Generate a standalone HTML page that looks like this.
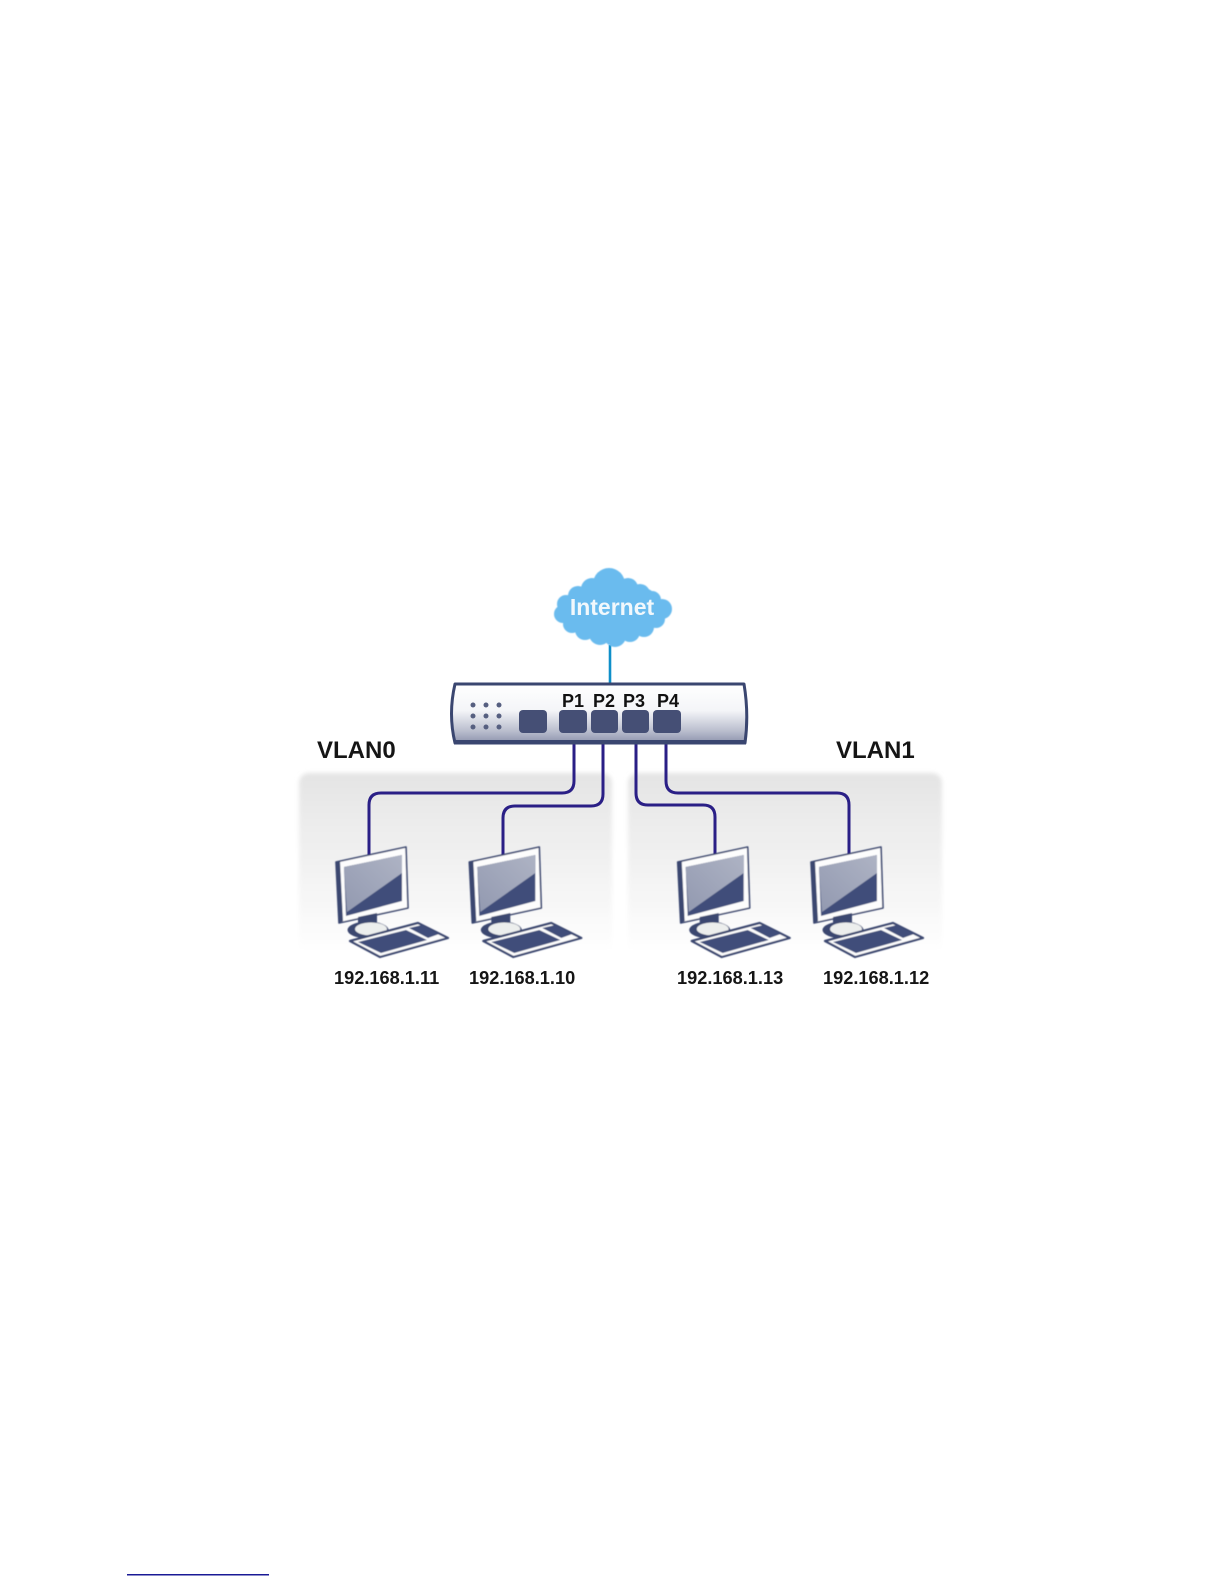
<!DOCTYPE html>
<html>
<head>
<meta charset="utf-8">
<style>
html,body{margin:0;padding:0;background:#fff;}
svg{display:block;}
text{font-family:"Liberation Sans",Arial,sans-serif;font-weight:bold;}
</style>
</head>
<body>
<svg width="1224" height="1584" viewBox="0 0 1224 1584" xmlns="http://www.w3.org/2000/svg">
<defs>
  <linearGradient id="pg" x1="0" y1="0" x2="0" y2="1">
    <stop offset="0" stop-color="#e4e4e4"/>
    <stop offset="0.3" stop-color="#ededed"/>
    <stop offset="0.65" stop-color="#f6f6f6"/>
    <stop offset="0.95" stop-color="#ffffff"/>
  </linearGradient>
  <linearGradient id="sw" x1="0" y1="0" x2="0" y2="1">
    <stop offset="0" stop-color="#ffffff"/>
    <stop offset="0.45" stop-color="#f4f5f8"/>
    <stop offset="0.8" stop-color="#b9bdcd"/>
    <stop offset="1" stop-color="#8d93ad"/>
  </linearGradient>
  <linearGradient id="scr" x1="0" y1="1" x2="1" y2="0">
    <stop offset="0" stop-color="#9299b0"/>
    <stop offset="1" stop-color="#aeb3c4"/>
  </linearGradient>
  <filter id="b1" x="-5%" y="-5%" width="110%" height="110%"><feGaussianBlur stdDeviation="2"/></filter>
  <filter id="b0" x="-5%" y="-5%" width="110%" height="110%"><feGaussianBlur stdDeviation="0.4"/></filter>
  <g id="pc" filter="url(#b0)">
    <polygon points="336,862 406,847 408,908 339,923" fill="#fdfdfd" stroke="#3a4670" stroke-width="1.6" stroke-linejoin="round"/>
    <polygon points="336,862 340,861 343,921 339,923" fill="#3a4670"/>
    <polygon points="344,867 402,855 402,901 346,916" fill="#3f4d7a"/>
    <polygon points="344,867 402,855 402,873 347,912" fill="url(#scr)"/>
    <polygon points="358,917 377,913 377,925 358,928" fill="#3a4670"/>
    <ellipse cx="368" cy="930" rx="20.5" ry="8.5" fill="#3a4670"/>
    <ellipse cx="371" cy="929" rx="16" ry="6.5" fill="#eceeed"/>
    <polygon points="350,941 418,923 448,938 380,957" fill="#fdfdfd" stroke="#3a4670" stroke-width="2.2" stroke-linejoin="round"/>
    <polygon points="358,942 406,930 427,940 381,953" fill="#3f4d7a"/>
    <polygon points="409,928 422,925 439,934 428,938" fill="#3f4d7a"/>
  </g>
</defs>

<!-- panels -->
<g filter="url(#b1)">
  <rect x="299" y="773" width="313" height="190" rx="10" fill="url(#pg)"/>
  <rect x="628" y="773" width="314" height="190" rx="10" fill="url(#pg)"/>
</g>

<!-- wires -->
<g fill="none" stroke="#2a1f86" stroke-width="3">
  <path d="M574,744 V781 Q574,793 562,793 H381 Q369,793 369,805 V855"/>
  <path d="M603,744 V794 Q603,806 591,806 H515 Q503,806 503,818 V855"/>
  <path d="M636,744 V793 Q636,805 648,805 H703 Q715,805 715,817 V855"/>
  <path d="M666,744 V781 Q666,793 678,793 H837 Q849,793 849,805 V855"/>
</g>
<path d="M610,645 V684" stroke="#0f8fc9" stroke-width="2.6" fill="none"/>

<!-- cloud -->
<g fill="#6abbee" filter="url(#b0)">
  <ellipse cx="613" cy="608" rx="50" ry="27"/>
  <circle cx="609" cy="584" r="16"/>
  <circle cx="592" cy="589" r="11"/>
  <circle cx="578" cy="596" r="10"/>
  <circle cx="628" cy="588" r="10"/>
  <circle cx="640" cy="594" r="10"/>
  <circle cx="652" cy="600" r="9"/>
  <circle cx="662" cy="609" r="10"/>
  <circle cx="656" cy="619" r="9"/>
  <circle cx="566" cy="604" r="9"/>
  <circle cx="563" cy="614" r="9"/>
  <circle cx="572" cy="624" r="9"/>
  <circle cx="585" cy="630" r="10"/>
  <circle cx="600" cy="634" r="11"/>
  <circle cx="615" cy="636" r="11"/>
  <circle cx="630" cy="632" r="10"/>
  <circle cx="644" cy="627" r="10"/>
</g>
<text x="612" y="615" font-size="23" fill="#f2f8fc" text-anchor="middle">Internet</text>

<!-- switch -->
<path d="M455,684 H744 Q749,714 745,743 H455 Q448,714 455,684 Z" fill="url(#sw)" stroke="#3a4670" stroke-width="3" stroke-linejoin="round"/>
<rect x="454" y="740" width="292" height="4.5" fill="#3a4670"/>
<g fill="#565f80">
  <circle cx="473" cy="705" r="2.5"/><circle cx="486" cy="705" r="2.5"/><circle cx="499" cy="705" r="2.5"/>
  <circle cx="473" cy="716" r="2.5"/><circle cx="486" cy="716" r="2.5"/><circle cx="499" cy="716" r="2.5"/>
  <circle cx="473" cy="727" r="2.5"/><circle cx="486" cy="727" r="2.5"/><circle cx="499" cy="727" r="2.5"/>
</g>
<g fill="#454f75">
  <rect x="519" y="710" width="28" height="23" rx="4"/>
  <rect x="559" y="710" width="28" height="23" rx="4"/>
  <rect x="591" y="710" width="27" height="23" rx="4"/>
  <rect x="622" y="710" width="27" height="23" rx="4"/>
  <rect x="653" y="710" width="28" height="23" rx="4"/>
</g>
<g font-size="18" fill="#111" text-anchor="middle">
  <text x="573" y="707">P1</text>
  <text x="604" y="707">P2</text>
  <text x="634" y="707">P3</text>
  <text x="668" y="707">P4</text>
</g>

<!-- computers -->
<use href="#pc"/>
<use href="#pc" transform="translate(133.3,0)"/>
<use href="#pc" transform="translate(341.7,0)"/>
<use href="#pc" transform="translate(475,0)"/>

<!-- labels -->
<g fill="#151515">
  <text x="317" y="758" font-size="24">VLAN0</text>
  <text x="836" y="758" font-size="24">VLAN1</text>
  <text x="334" y="984" font-size="18.2">192.168.1.11</text>
  <text x="469" y="984" font-size="18.2">192.168.1.10</text>
  <text x="677" y="984" font-size="18.2">192.168.1.13</text>
  <text x="823" y="984" font-size="18.2">192.168.1.12</text>
</g>

<!-- footer rule -->
<rect x="127" y="1574" width="142" height="1.5" fill="#1a1a96"/>
</svg>
</body>
</html>
